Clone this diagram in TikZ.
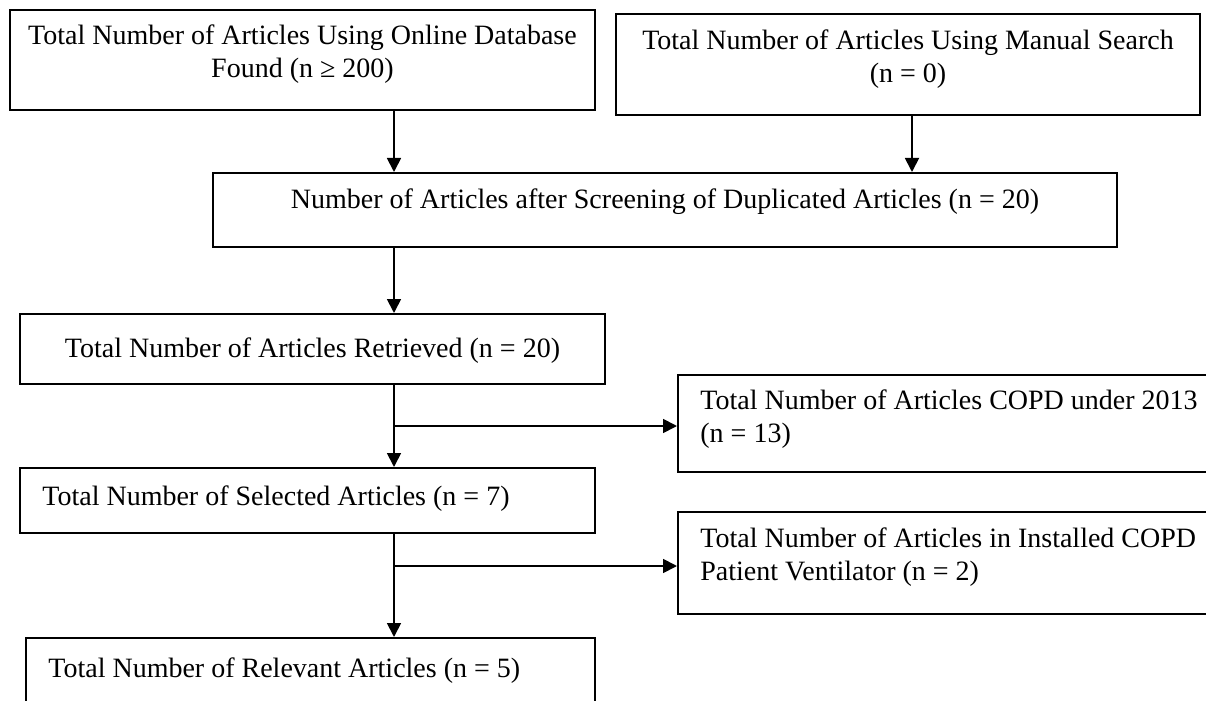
\documentclass[tikz,border=0pt]{standalone}
\usepackage{fontspec}
\setmainfont{Liberation Serif}
\usetikzlibrary{arrows.meta,calc}
\begin{document}
\begin{tikzpicture}[x=0.5pt,y=-0.5pt,
  box/.style={draw, line width=1pt, inner sep=0pt, rectangle},
  txt/.style={inner sep=0pt, font=\fontsize{14}{16.5}\selectfont},
  arr/.style={line width=0.9pt, -{Triangle[length=7pt,width=7pt]}}]
\useasboundingbox (0,0) rectangle (1206,701);
\clip (0,0) rectangle (1206,701);
% boxes
\node[box, minimum width=292.5pt, minimum height=50pt] (b1) at (302.5,60) {};
\node[box, minimum width=292pt, minimum height=50.5pt] (b2) at (908,64.5) {};
\node[box, minimum width=452pt, minimum height=37pt] (b3) at (665,210) {};
\node[box, minimum width=292.5pt, minimum height=35pt] (b4) at (312.5,349) {};
\node[box, minimum width=276pt, minimum height=48.5pt] (b6) at (954,423.5) {};
\node[box, minimum width=287.5pt, minimum height=32.5pt] (b5) at (307.5,500.5) {};
\node[box, minimum width=276pt, minimum height=51pt] (b7) at (954,563) {};
\node[box, minimum width=284.5pt, minimum height=46pt] (b8) at (310.5,684) {};
% texts (base anchor of a two-line node = baseline of its last line)
\node[txt, anchor=base, align=center] (t1) at (302.5,78) {Total Number of Articles Using Online Database\\Found (n ≥ 200)};
\node[txt, anchor=base, align=center] (t2) at (908,83) {Total Number of Articles Using Manual Search\\(n = 0)};
\node[txt, anchor=base] (t3) at (665,208) {Number of Articles after Screening of Duplicated Articles (n = 20)};
\node[txt, anchor=base] (t4) at (312.5,357) {Total Number of Articles Retrieved (n = 20)};
\node[txt, anchor=base west, align=left] (t6) at (700,442) {Total Number of Articles COPD under 2013\\(n = 13)};
\node[txt, anchor=base west] (t5) at (42,505) {Total Number of Selected Articles (n = 7)};
\node[txt, anchor=base west, align=left] (t7) at (700,580) {Total Number of Articles in Installed COPD\\Patient Ventilator (n = 2)};
\node[txt, anchor=base west] (t8) at (48,677) {Total Number of Relevant Articles (n = 5)};
% connectors
\coordinate (xa) at (394,0);
\coordinate (xb) at (912,0);
\draw[arr] (b1.south -| xa) -- (b3.north -| xa);
\draw[arr] (b2.south -| xb) -- (b3.north -| xb);
\draw[arr] (b3.south -| xa) -- (b4.north -| xa);
\draw[arr] (b4.south -| xa) -- (b5.north -| xa);
\coordinate (j1) at (394,426);
\draw[arr] (j1) -- (j1 -| b6.west);
\draw[arr] (b5.south -| xa) -- (b8.north -| xa);
\coordinate (j2) at (394,566);
\draw[arr] (j2) -- (j2 -| b7.west);
\end{tikzpicture}
\end{document}
